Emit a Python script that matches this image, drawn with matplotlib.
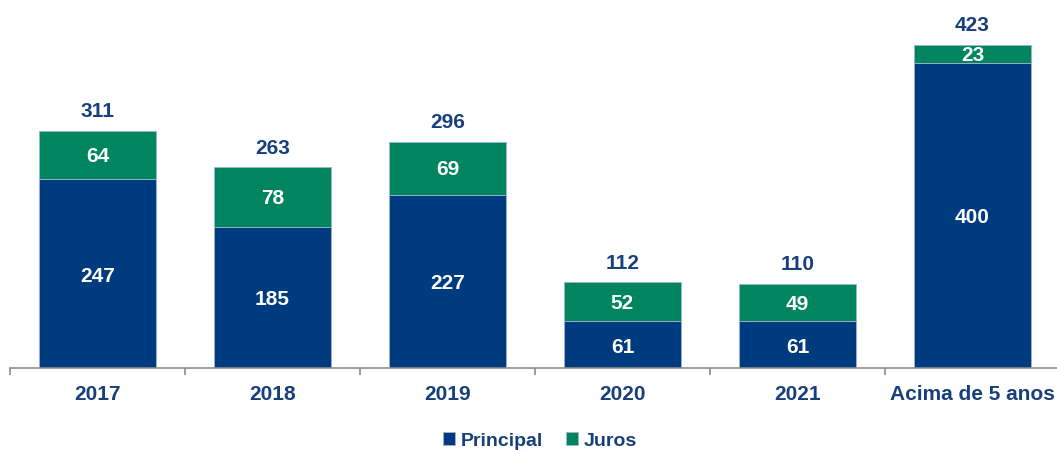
import matplotlib
matplotlib.use('Agg')
import matplotlib.pyplot as plt
import numpy as np

categories = ['2017', '2018', '2019', '2020', '2021', 'Acima de 5 anos']
principal = [247, 185, 227, 61, 61, 400]
juros = [64, 78, 69, 52, 49, 23]
totals = [311, 263, 296, 112, 110, 423]

blue = '#003B80'
green = '#00855E'
txt = '#163F7C'

plt.rcParams['font.family'] = ['Liberation Sans', 'DejaVu Sans']

fig = plt.figure(figsize=(10.57, 4.5), dpi=100)
ax = fig.add_axes([10/1057, 1 - 368/450, 1050/1057, 368/450])

x = np.arange(len(categories))
w = 0.663
ax.bar(x, principal, w, color=blue, edgecolor='#9DB3CF', linewidth=0.6, label='Principal')
ax.bar(x, juros, w, bottom=principal, color=green, edgecolor='#9DB3CF', linewidth=0.6, label='Juros')

for i in range(len(categories)):
    ax.text(x[i], principal[i] / 2 - 3, str(principal[i]), ha='center', va='center',
            color='white', fontsize=15, fontweight='bold')
    ax.text(x[i], principal[i] + juros[i] / 2 - 2, str(juros[i]), ha='center', va='center',
            color='white', fontsize=15, fontweight='bold')
    ax.text(x[i], totals[i] + 25, str(totals[i]), ha='center', va='center',
            color=txt, fontsize=15, fontweight='bold')

ax.set_xlim(-0.5, len(categories) - 0.5)
ax.set_ylim(0, 482)
ax.set_yticks([])
for s in ['top', 'right', 'left']:
    ax.spines[s].set_visible(False)
ax.spines['bottom'].set_color('#8C8C8C')
ax.spines['bottom'].set_linewidth(1.2)

ax.set_xticks(np.arange(-0.5, len(categories), 1.0))
ax.set_xticklabels([])
ax.tick_params(axis='x', length=5, color='#8C8C8C', width=1.2)
ax.set_xticks(x, minor=True)
ax.set_xticklabels(categories, minor=True, color=txt, fontsize=15, fontweight='bold')
ax.tick_params(axis='x', which='minor', length=0, pad=12)

leg = fig.legend(loc='center', bbox_to_anchor=(540/1057, 1 - 441/450), ncol=2, frameon=False,
                 handlelength=0.6, handleheight=0.6, handletextpad=0.3, columnspacing=1.2,
                 prop={'size': 14, 'weight': 'bold'})
for t in leg.get_texts():
    t.set_color(txt)

fig.savefig('out.png', dpi=100)
